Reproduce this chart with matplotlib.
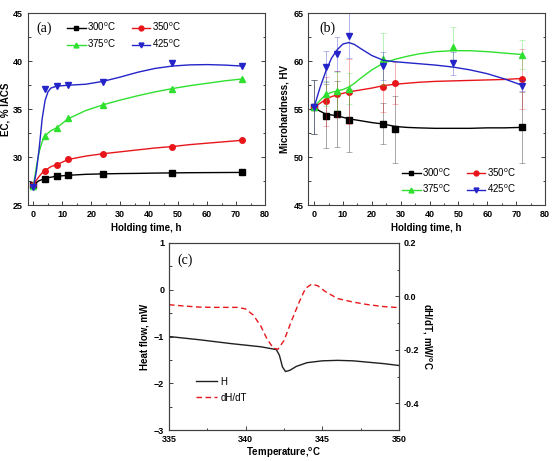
import matplotlib
matplotlib.use("Agg")
import matplotlib.pyplot as plt
from matplotlib.lines import Line2D
from matplotlib.ticker import MultipleLocator, FormatStrFormatter

plt.rcParams['font.family'] = ['Liberation Sans', 'DejaVu Sans']
plt.rcParams['mathtext.default'] = 'regular'

# ---- (a) electrical conductivity ----
hours = [0, 4, 8, 12, 24, 48, 72]
ec_300 = [27.1, 27.75, 28.0, 28.1, 28.25, 28.35, 28.4]
ec_350 = [27.1, 28.6, 29.2, 29.75, 30.35, 31.1, 31.75]
ec_375 = [27.0, 32.2, 33.05, 34.1, 35.45, 37.15, 38.15]
ec_425 = [26.9, 37.1, 37.45, 37.55, 37.85, 39.8, 39.55]

# fitted curves
fit_a_x = [0, 1, 2, 3, 4, 5, 6, 8, 12, 18, 24, 30, 36, 42, 48, 54, 60, 66, 72]
fit_a_300 = [27.1, 27.35, 27.55, 27.65, 27.75, 27.85, 27.9, 28.0, 28.1, 28.2, 28.25, 28.28, 28.3, 28.33, 28.35, 28.37, 28.38, 28.39, 28.4]
fit_a_350 = [27.1, 27.6, 28.0, 28.35, 28.6, 28.8, 29.0, 29.2, 29.75, 30.1, 30.35, 30.55, 30.75, 30.95, 31.1, 31.3, 31.45, 31.6, 31.75]
fit_a_375 = [27.0, 29.0, 30.6, 31.6, 32.2, 32.5, 32.75, 33.05, 34.0, 34.85, 35.45, 35.95, 36.4, 36.8, 37.15, 37.45, 37.7, 37.95, 38.15]
fit_a_425 = [26.9, 28.5, 31.0, 34.0, 35.9, 36.8, 37.2, 37.4, 37.5, 37.6, 37.9, 38.35, 38.85, 39.25, 39.5, 39.62, 39.65, 39.6, 39.5]

# ---- (b) microhardness ----
hours_b = [0, 4, 8, 12, 24, 28, 72]
hv_300 = [55.2, 54.3, 54.5, 53.85, 53.5, 52.9, 53.1]
err_300 = [2.8, 3.3, 3.4, 3.3, 2.1, 3.5, 3.7]
hv_350 = [55.2, 55.8, 56.55, 56.8, 57.3, 57.75, 58.15]
err_350 = [2.8, 2.6, 2.4, 3.4, 2.6, 2.2, 3.1]
hours_b2 = [0, 4, 8, 12, 24, 48, 72]
hv_375 = [55.2, 56.6, 56.9, 57.15, 60.2, 61.5, 60.7]
err_375 = [2.8, 1.3, 2.0, 1.6, 2.7, 2.1, 1.5]
hv_425 = [55.2, 59.45, 60.75, 62.65, 59.5, 59.8, 57.45]
err_425 = [2.8, 1.6, 1.75, 2.35, 1.5, 1.2, 0.6]

fit_b_x = [0, 2, 4, 6, 8, 10, 12, 14, 16, 20, 24, 28, 32, 36, 42, 48, 54, 60, 66, 72]
fit_b_300 = [55.2, 54.8, 54.5, 54.4, 54.3, 54.15, 54.0, 53.9, 53.8, 53.6, 53.45, 53.2, 53.1, 53.05, 53.0, 53.0, 53.0, 53.05, 53.05, 53.1]
fit_b_350 = [55.2, 55.6, 56.0, 56.3, 56.5, 56.65, 56.8, 56.9, 57.0, 57.2, 57.45, 57.6, 57.7, 57.8, 57.9, 57.95, 58.0, 58.05, 58.1, 58.2]
fit_b_375 = [55.2, 55.9, 56.5, 56.75, 56.9, 57.05, 57.3, 57.7, 58.2, 59.1, 59.8, 60.2, 60.5, 60.75, 61.0, 61.1, 61.1, 61.0, 60.85, 60.7]
fit_b_425 = [55.2, 57.2, 58.9, 60.3, 61.2, 61.8, 61.95, 61.75, 61.35, 60.6, 60.1, 59.95, 59.85, 59.75, 59.6, 59.4, 59.1, 58.7, 58.15, 57.5]

# ---- (c) DSC ----
temp_h = [335, 337, 339, 341, 342, 342.2, 342.4, 342.6, 342.9, 343.3, 344, 345, 346, 347, 348, 349, 350]
heat_flow = [-1.0, -1.07, -1.15, -1.22, -1.28, -1.4, -1.65, -1.75, -1.72, -1.64, -1.56, -1.52, -1.51, -1.52, -1.55, -1.58, -1.62]
temp_d = [335, 336, 337, 338, 339, 339.5, 340, 340.5, 341, 341.4, 341.8, 342.1, 342.5, 343, 343.5, 343.9, 344.3, 344.7, 345.2, 346, 347, 348, 349, 350]
dhdt = [-0.031, -0.036, -0.04, -0.041, -0.041, -0.041, -0.047, -0.07, -0.112, -0.16, -0.193, -0.198, -0.165, -0.09, -0.02, 0.03, 0.046, 0.04, 0.018, -0.008, -0.021, -0.031, -0.038, -0.042]

c_black = '#000000'
c_red = '#e8161b'
c_green = '#2fe02f'
c_blue = '#2424c8'
labels = ['300$^o$C', '350$^o$C', '375$^o$C', '425$^o$C']
markers = ['s', 'o', '^', 'v']
colors = [c_black, c_red, c_green, c_blue]

fig = plt.figure(figsize=(5.55, 4.61), dpi=100)
ax_a = fig.add_axes([0.0499, 0.5553, 0.4276, 0.4158])
ax_b = fig.add_axes([0.5555, 0.5553, 0.4265, 0.4158])
ax_c = fig.add_axes([0.3045, 0.0672, 0.4144, 0.4057])


def style_axes(ax):
    for s in ax.spines.values():
        s.set_color('#404040')
        s.set_linewidth(0.8)
    ax.tick_params(which='both', direction='in', top=False, right=True,
                   labelsize=6.5, color='#404040', width=0.7)
    ax.tick_params(which='major', length=3)
    ax.tick_params(which='minor', length=1.8)
    for t in ax.get_xticklabels() + ax.get_yticklabels():
        t.set_fontweight('bold')


def legend_2x2(ax, **kw):
    # row-wise order: 300 350 / 375 425 (matplotlib fills by column)
    order = [0, 2, 1, 3]
    hs = [Line2D([0], [0], color=colors[i], marker=markers[i], markersize=3.5, lw=1) for i in order]
    ax.legend(hs, [labels[i] for i in order], ncol=2, frameon=False, fontsize=7,
              handlelength=1.9, handletextpad=0.15, columnspacing=1.6,
              labelspacing=0.45, borderaxespad=0, **kw)


# panel a
for yv, fy, c, m in zip([ec_300, ec_350, ec_375, ec_425], [fit_a_300, fit_a_350, fit_a_375, fit_a_425], colors, markers):
    ax_a.plot(fit_a_x, fy, color=c, lw=1)
    ax_a.plot(hours, yv, linestyle='none', marker=m, color=c, markersize=4)
ax_a.set_xlim(-2, 80)
ax_a.set_ylim(25, 45)
ax_a.xaxis.set_major_locator(MultipleLocator(10))
ax_a.xaxis.set_minor_locator(MultipleLocator(5))
ax_a.yaxis.set_major_locator(MultipleLocator(5))
ax_a.yaxis.set_minor_locator(MultipleLocator(2.5))
style_axes(ax_a)
ax_a.set_xlabel('Holding time, h', fontsize=7, fontweight='bold', labelpad=3)
ax_a.set_ylabel('EC, % IACS', fontsize=7, fontweight='bold', labelpad=2)
ax_a.text(0.035, 0.955, '(a)', transform=ax_a.transAxes, family='Liberation Serif', fontsize=10, va='top')
legend_2x2(ax_a, loc='upper left', bbox_to_anchor=(0.15, 0.98))

# panel b
for x, yv, ev, fy, c, m in zip([hours_b, hours_b, hours_b2, hours_b2],
                               [hv_300, hv_350, hv_375, hv_425],
                               [err_300, err_350, err_375, err_425],
                               [fit_b_300, fit_b_350, fit_b_375, fit_b_425], colors, markers):
    ax_b.errorbar(x, yv, yerr=ev, fmt='none', ecolor=c, alpha=0.35, elinewidth=0.7, capsize=2, capthick=0.6)
    ax_b.plot(fit_b_x, fy, color=c, lw=1)
    ax_b.plot(x, yv, linestyle='none', marker=m, color=c, markersize=4)
ax_b.set_xlim(-2, 80)
ax_b.set_ylim(45, 65)
ax_b.xaxis.set_major_locator(MultipleLocator(10))
ax_b.xaxis.set_minor_locator(MultipleLocator(5))
ax_b.yaxis.set_major_locator(MultipleLocator(5))
ax_b.yaxis.set_minor_locator(MultipleLocator(2.5))
style_axes(ax_b)
ax_b.set_xlabel('Holding time, h', fontsize=7, fontweight='bold', labelpad=3)
ax_b.set_ylabel('Microhardness, HV', fontsize=7, fontweight='bold', labelpad=3)
ax_b.text(0.045, 0.955, '(b)', transform=ax_b.transAxes, family='Liberation Serif', fontsize=10, va='top')
legend_2x2(ax_b, loc='lower left', bbox_to_anchor=(0.38, 0.03))

# panel c
ln_h, = ax_c.plot(temp_h, heat_flow, color='#202020', lw=1, label='H')
ax_c.set_xlim(335, 350)
ax_c.set_ylim(-3, 1)
ax_c.xaxis.set_major_locator(MultipleLocator(5))
ax_c.xaxis.set_minor_locator(MultipleLocator(2.5))
ax_c.yaxis.set_major_locator(MultipleLocator(1))
ax_c.yaxis.set_minor_locator(MultipleLocator(0.5))
ax_r = ax_c.twinx()
ln_d, = ax_r.plot(temp_d, dhdt, color=c_red, lw=1, ls=(0, (4, 2.5)), label='dH/dT')
ax_r.set_ylim(-0.5, 0.2)
ax_r.yaxis.set_major_locator(MultipleLocator(0.2))
ax_r.yaxis.set_minor_locator(MultipleLocator(0.1))
ax_r.yaxis.set_major_formatter(FormatStrFormatter('%.1f'))
style_axes(ax_c)
ax_c.tick_params(which='both', right=False)
style_axes(ax_r)
ax_r.tick_params(which='both', left=False)
ax_c.set_xlabel('Temperature,$^o$C', fontsize=7, fontweight='bold', labelpad=1.5)
ax_c.set_ylabel('Heat flow, mW', fontsize=7, fontweight='bold', labelpad=3)
ax_r.set_ylabel('dH/dT, mW/$^o$C', fontsize=7, fontweight='bold', rotation=270, labelpad=10)
ax_c.text(0.035, 0.945, '(c)', transform=ax_c.transAxes, family='Liberation Serif', fontsize=10, va='top')
ax_c.legend([ln_h, ln_d], ['H', 'dH/dT'], frameon=False, fontsize=7, loc='upper left',
            bbox_to_anchor=(0.1, 0.305), handlelength=2.2, handletextpad=0.35,
            labelspacing=0.6, borderaxespad=0)

fig.savefig('out.png', dpi=100)
